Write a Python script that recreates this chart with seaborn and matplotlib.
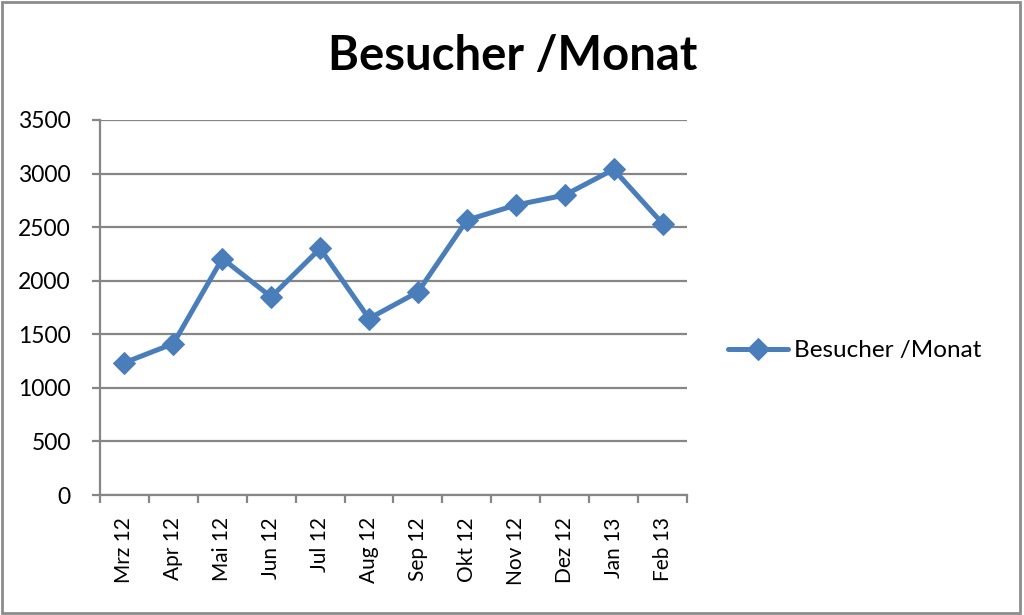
import matplotlib
matplotlib.use('Agg')
import matplotlib.pyplot as plt
import pandas as pd
import seaborn as sns
from matplotlib.patches import Rectangle

months = ['Mrz 12', 'Apr 12', 'Mai 12', 'Jun 12', 'Jul 12', 'Aug 12',
          'Sep 12', 'Okt 12', 'Nov 12', 'Dez 12', 'Jan 13', 'Feb 13']
visitors = [1235, 1413, 2207, 1849, 2301, 1647,
            1895, 2565, 2706, 2799, 3039, 2534]
series_name = 'Besucher /Monat'
y_ticks = [0, 500, 1000, 1500, 2000, 2500, 3000, 3500]

sns.set_style('white')
plt.rcParams['font.family'] = ['Lato', 'DejaVu Sans']
plt.rcParams['text.color'] = 'black'

df = pd.DataFrame({'month': months, 'visitors': visitors})

fig = plt.figure(figsize=(10.24, 6.15), dpi=100)
ax = fig.add_axes([100 / 1024, 1 - 495 / 615, 587 / 1024, 375 / 615])

sns.lineplot(
    data=df, x='month', y='visitors', ax=ax, sort=False,
    color='#4a7ebb', linewidth=3.6, marker='D', markersize=11,
    markeredgecolor='#4a7ebb', label=series_name,
)

grid = '#868686'
ax.set_xlim(-0.5, len(months) - 0.5)
ax.set_ylim(0, 3500)
ax.set_yticks(y_ticks)
ax.yaxis.grid(True, color=grid, linewidth=1.6)
ax.set_axisbelow(True)
ax.set_xlabel('')
ax.set_ylabel('')

for side in ['top', 'right']:
    ax.spines[side].set_visible(False)
for side in ['left', 'bottom']:
    ax.spines[side].set_color(grid)
    ax.spines[side].set_linewidth(1.6)

ax.set_xticks(range(len(months)))
ax.set_xticklabels(months, rotation=90)
ax.set_xticks([i - 0.5 for i in range(len(months) + 1)], minor=True)
ax.tick_params(axis='x', which='major', length=0, pad=16, labelsize=15,
               labelcolor='black')
ax.tick_params(axis='x', which='minor', length=6, width=1.6, color=grid,
               direction='out', bottom=True)
ax.tick_params(axis='y', length=6, width=1.6, color=grid, direction='out',
               left=True, pad=15, labelsize=16.5, labelcolor='black')

fig.text(513 / 1024, 1 - 70 / 615, series_name, ha='center', va='baseline',
         fontsize=34, fontweight='bold', color='black')

leg = ax.legend(loc='center left', bbox_to_anchor=(1.032, 0.385), frameon=False,
                fontsize=17.5, handlelength=2.5, handletextpad=0.25)
for t in leg.get_texts():
    t.set_color('black')

fig.patches.append(Rectangle((0.002, 0.004), 0.994, 0.993, transform=fig.transFigure,
                             fill=False, edgecolor='#8c8c8c', linewidth=2))

fig.savefig('out.png', dpi=100)
